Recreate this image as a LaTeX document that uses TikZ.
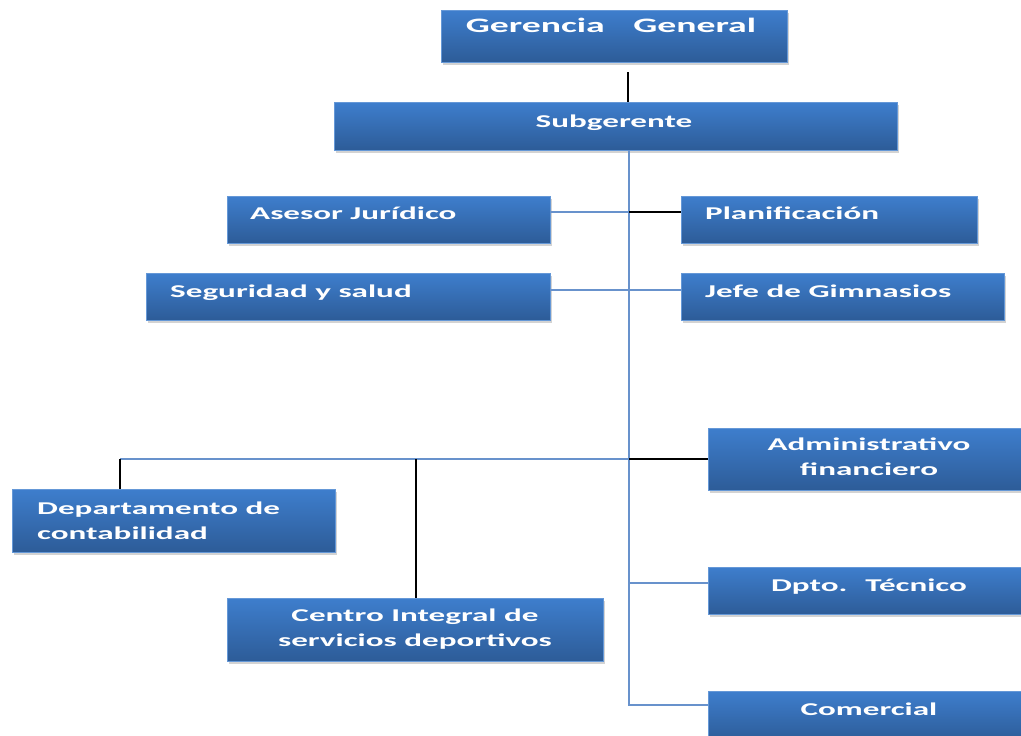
\documentclass[tikz,border=0pt]{standalone}
\usepackage{fontspec}
\newfontfamily\bx[FakeStretch=1.84]{Carlito}
\usetikzlibrary{shadows}
\definecolor{boxtop}{RGB}{62,126,205}
\definecolor{boxbot}{RGB}{45,92,152}
\definecolor{conn}{RGB}{104,146,204}
\tikzset{
  box/.style={rectangle, draw=boxtop!80!white, line width=0.5pt, top color=boxtop, bottom color=boxbot,
    drop shadow={opacity=0.35, shadow xshift=2pt, shadow yshift=-2.5pt}, inner sep=0pt},
  txt/.style={text=white, font=\bx\bfseries\fontsize{18}{25}\selectfont, inner sep=0pt},
  bigtxt/.style={txt, font=\bx\bfseries\fontsize{20.5}{25}\selectfont},
  blueline/.style={draw=conn, line width=2.8pt},
  blackline/.style={draw=black, line width=2.2pt},
}
\begin{document}
\begin{tikzpicture}[x=1pt,y=-1pt]
\useasboundingbox (0,0) rectangle (1021,736);
% boxes
\node[box, minimum width=346pt, minimum height=52pt] (gg) at (614,36) {};
\node[box, minimum width=563pt, minimum height=48pt] (sub) at (615.5,126) {};
\node[box, minimum width=323pt, minimum height=47pt] (ase) at (388.5,219.5) {};
\node[box, minimum width=296pt, minimum height=47pt] (pla) at (829,219.5) {};
\node[box, minimum width=404pt, minimum height=47pt] (seg) at (348,296.5) {};
\node[box, minimum width=323pt, minimum height=47pt] (jef) at (842.5,296.5) {};
\node[box, minimum width=320pt, minimum height=62pt] (adm) at (868,459) {};
\node[box, minimum width=323pt, minimum height=63pt] (dep) at (173.5,520.5) {};
\node[box, minimum width=376pt, minimum height=63pt] (cen) at (415,629.5) {};
\node[box, minimum width=320pt, minimum height=47pt] (dpt) at (868,590.5) {};
\node[box, minimum width=320pt, minimum height=50pt] (com) at (868,716) {};
% texts
\node[bigtxt, anchor=base] (tgg) at (611,32) {Gerencia\hspace{1.4em}General};
\node[txt, anchor=base] (tsub) at (614,127) {Subgerente};
\node[txt, anchor=base west] (tase) at (250,219) {Asesor Jurídico};
\node[txt, anchor=base west] (tpla) at (705,219) {Planificación};
\node[txt, anchor=base west] (tseg) at (170,297) {Seguridad y salud};
\node[txt, anchor=base west] (tjef) at (705,297) {Jefe de Gimnasios};
\node[txt, align=center, anchor=center] (tadm) at (869,457) {Administrativo\\financiero};
\node[txt, anchor=base] (tdpt) at (869,591) {Dpto.\hspace{1em}Técnico};
\node[txt, anchor=base] (tcom) at (869,715) {Comercial};
\node[txt, align=left, anchor=west] (tdep) at (37,521) {Departamento de\\contabilidad};
\node[txt, align=center, anchor=center] (tcen) at (415,629) {Centro Integral de\\servicios deportivos};
% junction coordinates
\coordinate (tA) at (629,150);
\coordinate (jAse) at (629,212);
\coordinate (jSeg) at (629,290);
\coordinate (jAdm) at (629,459);
\coordinate (jDpt) at (629,583);
\coordinate (jCom) at (629,705);
\coordinate (hL) at (120,459);
\coordinate (hC) at (416,459);
% connectors
\draw[blackline] (628,72) coordinate (gtop) -- (sub.north -| gtop);
\draw[blueline] (sub.south -| tA) -- (jCom) -- (com.west |- jCom);
\draw[blueline] (ase.east |- jAse) -- (jAse);
\draw[blackline, line width=1.7pt] (jAse) -- (pla.west |- jAse);
\draw[blueline] (seg.east |- jSeg) -- (jef.west |- jSeg);
\draw[blueline] (hL) -- (jAdm);
\draw[blackline, line width=1.7pt] (jAdm) -- (adm.west |- jAdm);
\draw[blackline] (hL) -- (dep.north -| hL);
\draw[blackline] (hC) -- (cen.north -| hC);
\draw[blueline] (jDpt) -- (dpt.west |- jDpt);
\end{tikzpicture}
\end{document}
